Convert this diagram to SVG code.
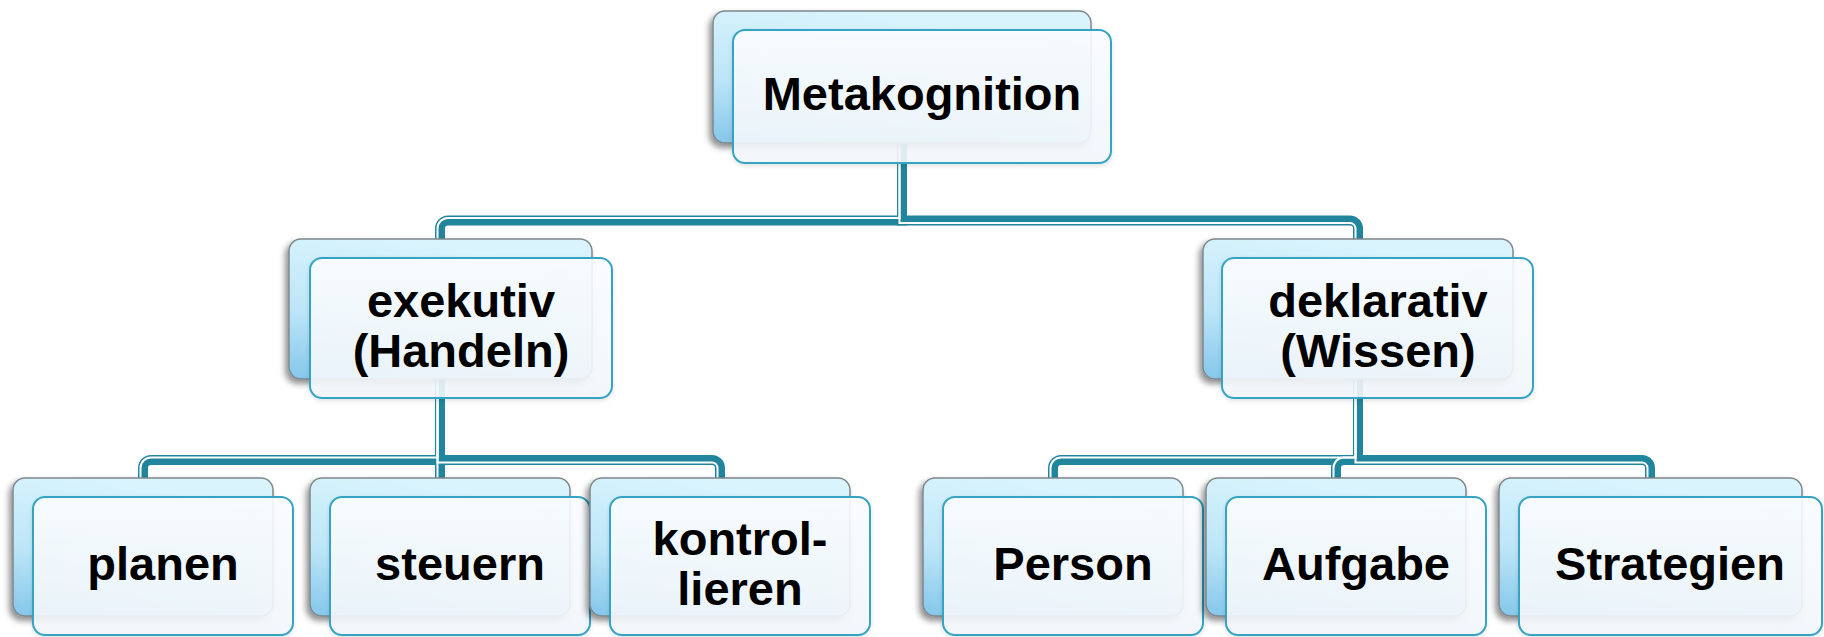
<svg xmlns="http://www.w3.org/2000/svg" width="1824" height="637" viewBox="0 0 1824 637">
<defs>
<linearGradient id="backGrad" x1="0.35" y1="0" x2="0" y2="1">
<stop offset="0" stop-color="#d9f4fd"/>
<stop offset="0.55" stop-color="#bde6f8"/>
<stop offset="1" stop-color="#84c6ea"/>
</linearGradient>
<linearGradient id="frontGrad" x1="0" y1="0" x2="0" y2="1">
<stop offset="0" stop-color="#fafdff"/>
<stop offset="1" stop-color="#f2f7fb"/>
</linearGradient>
<filter id="shadow" x="-10%" y="-10%" width="120%" height="130%">
<feDropShadow dx="-3" dy="4" stdDeviation="3" flood-color="#000" flood-opacity="0.45"/>
</filter>
<filter id="softShadow" x="-10%" y="-10%" width="120%" height="130%">
<feDropShadow dx="0" dy="2" stdDeviation="2" flood-color="#000" flood-opacity="0.12"/>
</filter>
</defs>
<style>
.back{fill:url(#backGrad);stroke:#7d878c;stroke-width:1.5;filter:url(#shadow);}
.front{fill:url(#frontGrad);fill-opacity:0.9;stroke:#35a4c3;stroke-width:2;filter:url(#softShadow);}
.lbl{font-family:"Liberation Sans",Arial,sans-serif;font-weight:bold;font-size:47px;fill:#000;text-anchor:middle;}
.cn{fill:none;stroke:#21859e;stroke-width:10;stroke-linejoin:miter;}
.cw{fill:none;stroke:#ffffff;stroke-width:2;}
</style>
<g id="connectors">
<path class="cn" d="M902,143 V220.5 H448 A8,8 0 0 0 440,228.5 V244"/>
<path class="cn" d="M902,143 V220.5 H1350 A8,8 0 0 1 1358,228.5 V244"/>
<path class="cn" d="M440,379 V460 H151 A8,8 0 0 0 143,468 V483"/>
<path class="cn" d="M440,379 V483"/>
<path class="cn" d="M440,379 V460 H712 A8,8 0 0 1 720,468 V483"/>
<path class="cn" d="M1358,379 V460 H1061 A8,8 0 0 0 1053,468 V483"/>
<path class="cn" d="M1358,379 V460 H1344 A8,8 0 0 0 1336,468 V483"/>
<path class="cn" d="M1358,379 V460 H1642 A8,8 0 0 1 1650,468 V483"/>
<path class="cw" d="M899.5,143 V218 H448 A10.5,10.5 0 0 0 437.5,228.5 V244"/>
<path class="cw" d="M899.5,143 V223 H1350 A5.5,5.5 0 0 1 1355.5,228.5 V244"/>
<path class="cw" d="M437.5,379 V457.5 H151 A10.5,10.5 0 0 0 140.5,468 V483"/>
<path class="cw" d="M437.5,379 V483"/>
<path class="cw" d="M437.5,379 V462.5 H712 A5.5,5.5 0 0 1 717.5,468 V483"/>
<path class="cw" d="M1355.5,379 V457.5 H1061 A10.5,10.5 0 0 0 1050.5,468 V483"/>
<path class="cw" d="M1355.5,379 V457.5 H1344 A10.5,10.5 0 0 0 1333.5,468 V483"/>
<path class="cw" d="M1355.5,379 V462.5 H1642 A5.5,5.5 0 0 1 1647.5,468 V483"/>
</g>
<g id="node-metakognition">
<rect class="back" x="713" y="11" width="378" height="132" rx="12"/>
<rect class="front" x="733" y="30" width="378" height="133" rx="12"/>
<text class="lbl" x="922" y="110">Metakognition</text>
</g>
<g id="node-exekutiv">
<rect class="back" x="289" y="239" width="303" height="140" rx="12"/>
<rect class="front" x="310" y="258" width="302" height="140" rx="12"/>
<text class="lbl" x="461" y="317">exekutiv</text>
<text class="lbl" x="461" y="367">(Handeln)</text>
</g>
<g id="node-deklarativ">
<rect class="back" x="1203" y="239" width="310" height="140" rx="12"/>
<rect class="front" x="1222" y="258" width="311" height="140" rx="12"/>
<text class="lbl" x="1378" y="317">deklarativ</text>
<text class="lbl" x="1378" y="367">(Wissen)</text>
</g>
<g id="node-planen">
<rect class="back" x="13" y="478" width="260" height="138" rx="12"/>
<rect class="front" x="33" y="497" width="260" height="138" rx="12"/>
<text class="lbl" x="163" y="580">planen</text>
</g>
<g id="node-steuern">
<rect class="back" x="310" y="478" width="260" height="138" rx="12"/>
<rect class="front" x="330" y="497" width="260" height="138" rx="12"/>
<text class="lbl" x="460" y="580">steuern</text>
</g>
<g id="node-kontrollieren">
<rect class="back" x="590" y="478" width="260" height="138" rx="12"/>
<rect class="front" x="610" y="497" width="260" height="138" rx="12"/>
<text class="lbl" x="740" y="555">kontrol-</text>
<text class="lbl" x="740" y="605">lieren</text>
</g>
<g id="node-person">
<rect class="back" x="923" y="478" width="260" height="138" rx="12"/>
<rect class="front" x="943" y="497" width="260" height="138" rx="12"/>
<text class="lbl" x="1073" y="580">Person</text>
</g>
<g id="node-aufgabe">
<rect class="back" x="1206" y="478" width="260" height="138" rx="12"/>
<rect class="front" x="1226" y="497" width="260" height="138" rx="12"/>
<text class="lbl" x="1356" y="580">Aufgabe</text>
</g>
<g id="node-strategien">
<rect class="back" x="1499" y="478" width="303" height="138" rx="12"/>
<rect class="front" x="1519" y="497" width="303" height="138" rx="12"/>
<text class="lbl" x="1670" y="580">Strategien</text>
</g>
</svg>
